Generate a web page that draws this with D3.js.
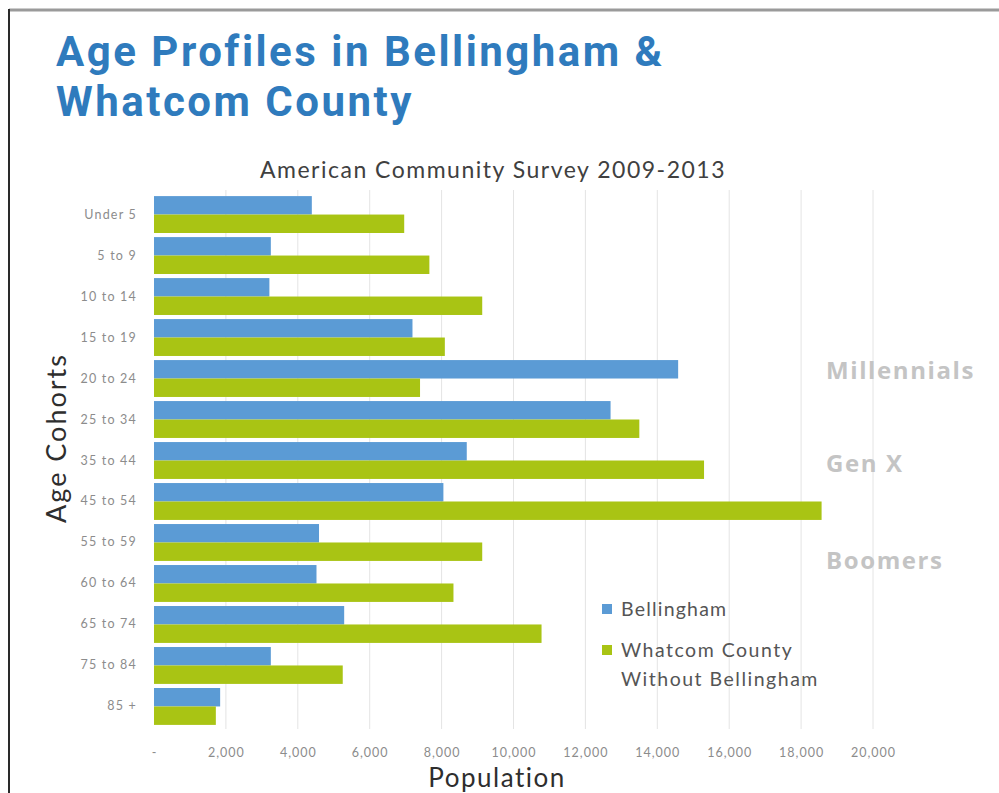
<!DOCTYPE html>
<html>
<head>
<meta charset="utf-8">
<script src="https://cdn.jsdelivr.net/npm/d3@7"></script>
<style>
  html, body { margin: 0; padding: 0; background: #fff; }
  svg { display: block; }
</style>
</head>
<body>
<svg id="chart" width="999" height="793"></svg>
<script>
// Age cohorts, top to bottom
const categories = ["Under 5", "5 to 9", "10 to 14", "15 to 19", "20 to 24", "25 to 34",
  "35 to 44", "45 to 54", "55 to 59", "60 to 64", "65 to 74", "75 to 84", "85 +"];

// Population by cohort
const bellingham = [4390, 3250, 3210, 7190, 14580, 12700, 8700, 8050, 4590, 4520, 5290, 3250, 1840];
const whatcomWithoutBellingham = [6960, 7660, 9130, 8090, 7400, 13500, 15300, 18570, 9130, 8330, 10780, 5250, 1720];

const seriesNames = ["Bellingham", "Whatcom County"];
const xTickValues = [0, 2000, 4000, 6000, 8000, 10000, 12000, 14000, 16000, 18000, 20000];
const generations = ["Millennials", "Gen X", "Boomers"];

const BLUE = "#5b9bd5";
const GREEN = "#a9c414";

const svg = d3.select("#chart");

// frame lines
svg.append("line").attr("x1", 9).attr("x2", 999).attr("y1", 10).attr("y2", 10)
  .attr("stroke", "#9a9a9a").attr("stroke-width", 3);
svg.append("line").attr("x1", 9).attr("x2", 9).attr("y1", 9).attr("y2", 793)
  .attr("stroke", "#2a2a2a").attr("stroke-width", 2);

// titles
const titleLines = ["Age Profiles in Bellingham &", "Whatcom County"];
svg.append("g").selectAll("text").data(titleLines).join("text")
  .attr("x", 56).attr("y", (d, i) => 66 + i * 50)
  .attr("font-family", "Roboto, sans-serif").attr("font-weight", 700)
  .attr("font-size", 42).attr("letter-spacing", 2.5).attr("fill", "#2f7bbd")
  .text(d => d);

svg.append("text")
  .attr("x", 493).attr("y", 178).attr("text-anchor", "middle")
  .attr("font-family", "Lato, sans-serif").attr("font-size", 23).attr("letter-spacing", 1.5)
  .attr("fill", "#404040").text("American Community Survey 2009-2013");

// scales
const x = d3.scaleLinear().domain([0, 20000]).range([154, 873]);
const y = d3.scaleBand().domain(categories).range([192, 729]).paddingInner(0.1).paddingOuter(0.1);
const inner = d3.scaleBand().domain(seriesNames).range([0, y.bandwidth()]);

// gridlines
svg.append("g").selectAll("line").data(xTickValues.slice(1)).join("line")
  .attr("x1", d => x(d)).attr("x2", d => x(d))
  .attr("y1", 190).attr("y2", 729)
  .attr("stroke", "#e4e4e4").attr("stroke-width", 1);

// bars
const rows = categories.map((c, i) => ({ c, values: [bellingham[i], whatcomWithoutBellingham[i]] }));
const colors = d3.scaleOrdinal().domain(seriesNames).range([BLUE, GREEN]);

const groups = svg.append("g").selectAll("g").data(rows).join("g")
  .attr("transform", d => `translate(0,${y(d.c)})`);
groups.selectAll("rect").data(d => d.values.map((v, k) => ({ k: seriesNames[k], v }))).join("rect")
  .attr("x", x(0))
  .attr("y", d => inner(d.k))
  .attr("width", d => x(d.v) - x(0))
  .attr("height", inner.bandwidth())
  .attr("fill", d => colors(d.k));

// y axis labels
const yAxis = svg.append("g").attr("transform", "translate(146,0)")
  .call(d3.axisLeft(y).tickSize(0).tickPadding(9));
yAxis.select(".domain").remove();
yAxis.selectAll("text").attr("font-family", "Lato, sans-serif").attr("font-size", 12.5)
  .attr("letter-spacing", 1.2).attr("fill", "#8c8c8c");

// x axis labels
const fmt = d3.format(",");
const xAxis = svg.append("g").attr("transform", "translate(0,740)")
  .call(d3.axisBottom(x).tickValues(xTickValues).tickSize(0).tickPadding(8)
    .tickFormat(d => d === 0 ? "-" : fmt(d)));
xAxis.select(".domain").remove();
xAxis.selectAll("text").attr("font-family", "Lato, sans-serif").attr("font-size", 12.5)
  .attr("letter-spacing", 1).attr("fill", "#8c8c8c");

// axis titles
svg.append("text").attr("x", 497).attr("y", 787).attr("text-anchor", "middle")
  .attr("font-family", "Lato, sans-serif").attr("font-size", 26).attr("letter-spacing", 1.5)
  .attr("fill", "#2e2e2e").text("Population");
svg.append("text").attr("transform", "translate(66,438) rotate(-90)").attr("text-anchor", "middle")
  .attr("font-family", "Lato, sans-serif").attr("font-size", 27).attr("letter-spacing", 2)
  .attr("fill", "#2e2e2e").text("Age Cohorts");

// generation annotations
const genY = [379, 472, 569];
svg.append("g").selectAll("text").data(generations).join("text")
  .attr("x", 826).attr("y", (d, i) => genY[i])
  .attr("font-family", "'Open Sans', sans-serif").attr("font-weight", 700)
  .attr("font-size", 24).attr("letter-spacing", 1.6).attr("fill", "#c4c4c4")
  .text(d => d);

// legend
const legend = svg.append("g").attr("font-family", "Lato, sans-serif").attr("font-size", 19.5).attr("fill", "#555");
legend.append("rect").attr("x", 602).attr("y", 604).attr("width", 10).attr("height", 10).attr("fill", BLUE);
legend.append("text").attr("x", 621).attr("y", 616).attr("letter-spacing", 1.2).text("Bellingham");
legend.append("rect").attr("x", 602).attr("y", 645).attr("width", 10).attr("height", 10).attr("fill", GREEN);
const lt = legend.append("text").attr("letter-spacing", 1.5);
lt.append("tspan").attr("x", 621).attr("y", 657).text("Whatcom County");
lt.append("tspan").attr("x", 621).attr("y", 686).text("Without Bellingham");
</script>
</body>
</html>
